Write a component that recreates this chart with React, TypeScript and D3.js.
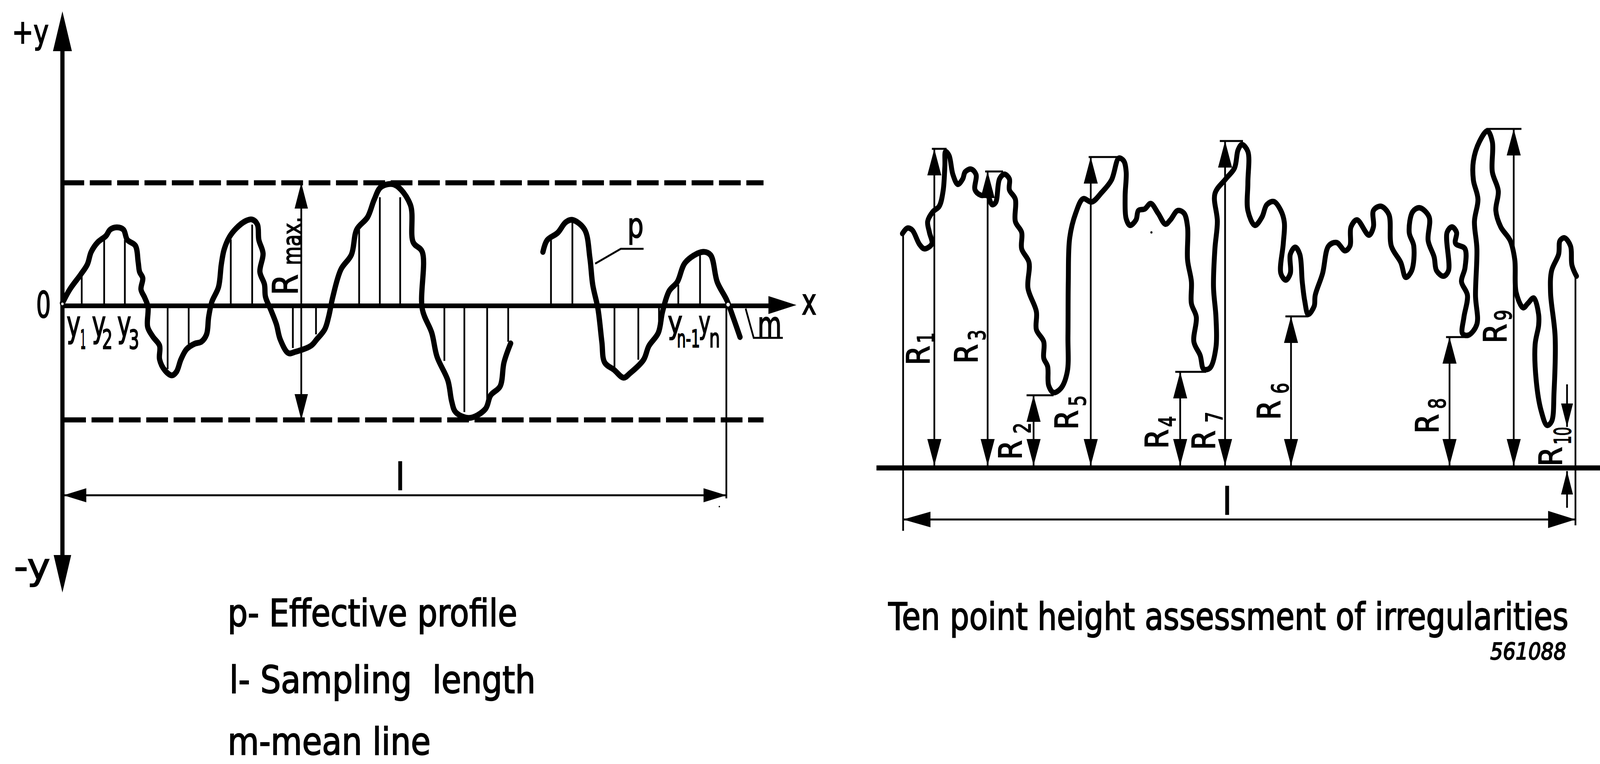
import React from "react";
import * as d3 from "d3";

type P = [number, number];

// Left panel: [distance along the mean line, height above the mean line]
const profileLeftA: P[] = [[0,7],[21,42],[52,80],[71,106],[82,138],[101,163],[124,179],[136,195],[155,201],[174,195],[185,169],[208,154],[216,112],[220,87],[229,71],[224,42],[235,20],[244,-3],[243,-54],[258,-79],[277,-102],[277,-137],[292,-165],[312,-178],[325,-169],[338,-137],[354,-111],[377,-97],[396,-92],[411,-73],[417,-28],[426,10],[445,48],[453,106],[461,144],[476,176],[495,198],[522,217],[541,221],[556,208],[560,169],[572,134],[563,87],[576,55],[579,23],[595,-12],[610,-47],[621,-86],[644,-121],[663,-118],[709,-102],[725,-86],[748,-60],[759,-28],[771,23],[794,93],[824,131],[839,195],[870,227],[889,272],[908,304],[947,310],[992,259],[1000,163],[1026,138],[1026,-8],[1053,-69],[1068,-130],[1099,-191],[1110,-245],[1121,-272],[1160,-287],[1206,-264],[1221,-229],[1248,-206],[1259,-145],[1278,-96]];
const profileLeftB: P[] = [[1370,138],[1382,168],[1412,187],[1435,214],[1454,220],[1489,195],[1504,122],[1512,54],[1527,-8],[1538,-92],[1546,-145],[1573,-164],[1600,-184],[1619,-172],[1657,-138],[1672,-103],[1699,-69],[1711,-15],[1730,38],[1753,61],[1776,111],[1825,138],[1848,130],[1867,61],[1894,15],[1913,-31],[1932,-80]];
const ordinates: P[] = [[55,75],[119,170],[178,169],[300,-162],[360,-98],[480,170],[541,208],[657,-108],[723,-73],[846,195],[905,278],[963,278],[1089,-141],[1146,-272],[1211,-241],[1271,-92],[1393,176],[1454,214],[1574,-160],[1642,-138],[1701,-46],[1756,54],[1818,130]];
const peakHeight = 315;
const valleyDepth = -292;
const samplingLengthLeft = 1893;

// Right panel: [distance along the base line, height above the base line]
const profileRight: P[] = [[-2,600],[12,614],[26,609],[47,572],[61,561],[82,574],[75,603],[70,631],[85,656],[103,670],[114,709],[119,772],[121,810],[131,800],[142,751],[156,726],[170,740],[177,758],[194,765],[208,751],[205,712],[222,698],[240,698],[254,674],[264,680],[275,740],[289,752],[303,740],[303,712],[320,688],[320,631],[338,603],[338,561],[359,526],[356,460],[380,400],[380,354],[401,323],[401,281],[412,260],[415,211],[429,193],[450,204],[468,246],[470,337],[471,477],[475,589],[492,652],[513,689],[538,681],[566,705],[594,737],[615,793],[629,786],[636,758],[633,695],[636,638],[647,621],[664,635],[671,659],[689,663],[706,677],[727,652],[748,624],[762,635],[783,659],[801,652],[811,617],[811,533],[822,477],[822,421],[836,386],[829,323],[847,288],[857,253],[875,256],[892,309],[892,386],[885,463],[889,561],[896,631],[889,702],[920,740],[945,768],[955,814],[966,828],[983,810],[983,730],[983,659],[1003,621],[1023,642],[1037,674],[1057,682],[1077,659],[1087,628],[1084,575],[1077,498],[1091,481],[1104,498],[1104,547],[1118,565],[1131,547],[1138,477],[1145,428],[1155,393],[1172,414],[1175,442],[1196,498],[1213,568],[1236,577],[1260,556],[1274,568],[1277,617],[1294,635],[1328,596],[1341,617],[1341,659],[1362,670],[1385,649],[1392,568],[1419,526],[1433,488],[1450,505],[1456,568],[1443,603],[1453,656],[1473,666],[1500,642],[1497,582],[1514,540],[1521,505],[1541,491],[1555,505],[1551,603],[1565,617],[1578,603],[1575,575],[1602,561],[1602,512],[1592,477],[1609,442],[1599,386],[1595,344],[1612,340],[1636,368],[1632,442],[1636,561],[1629,631],[1639,688],[1626,737],[1626,786],[1643,835],[1666,863],[1680,835],[1680,758],[1697,709],[1690,659],[1704,617],[1731,582],[1744,533],[1748,449],[1768,410],[1781,421],[1798,435],[1812,393],[1812,365],[1802,316],[1805,225],[1819,147],[1836,109],[1849,119],[1856,196],[1859,337],[1846,449],[1849,505],[1869,547],[1873,582],[1886,589],[1903,568],[1907,519],[1920,491]];
// Ten point heights: position and height
const rPositions = [89, 372, 241, 790, 535, 1106, 918, 1558, 1741];
const rHeights = [817, 186, 759, 246, 796, 388, 837, 335, 868];
const rTickFrom = [82, 352, 234, 776, 529, 1090, 903, 1548, 1663];
const rTickTo = [124, 429, 285, 864, 619, 1155, 969, 1612, 1763];
const rNames = ["1", "2", "3", "4", "5", "6", "7", "8", "9"];
const r10Position = 1893;
const r10Top = 105;
const r10TopTail = 214;
const r10Bottom = -8;
const r10BottomTail = -102;
const samplingLengthRight = 1917;

// Rotated label anchors: [x, y] of R then of its index
const rLabelR: P[] = [[2650,935],[2912,1177],[2787,931],[3330,1149],[3073,1100],[3650,1075],[3464,1152],[4101,1110],[4295,879],[4453,1194]];
const rLabelSub: P[] = [[2663,879],[2938,1110],[2809,872],[3351,1093],[3095,1040],[3673,1008],[3485,1082],[4121,1047],[4309,821],[4478,1138]];
const allNames = [...rNames, "10"];

const captionsLeft = ["p- Effective profile", "l- Sampling  length", "m-mean line"];
const captionRight = "Ten point height assessment of irregularities";
const figureNo = "561088";

const xL = d3.scaleLinear([0, 2100], [178, 2278]);
const yL = d3.scaleLinear([-300, 300], [1083, 483]);
const xR = d3.scaleLinear([0, 1917], [2575, 4492]);
const yR = d3.scaleLinear([0, 900], [1198, 298]);

const smooth = d3.line<P>().curve(d3.curveCatmullRom.alpha(0.5));

function head(tipX: number, tipY: number, dx: number, dy: number, len: number, w: number): string {
  const p = d3.path();
  p.moveTo(tipX, tipY);
  p.lineTo(tipX - dx * len - dy * w / 2, tipY - dy * len - dx * w / 2);
  p.lineTo(tipX - dx * len + dy * w / 2, tipY - dy * len + dx * w / 2);
  p.closePath();
  return p.toString();
}

const FONT = "'DejaVu Sans', sans-serif";

function T(props: { x: number; y: number; fs: number; w?: number; rot?: boolean; sx?: number; anchor?: string; italic?: boolean; children: string }) {
  const { x, y, fs, w, rot, sx, anchor, italic, children } = props;
  const placed = rot || sx;
  return (
    <text
      x={placed ? 0 : x}
      y={placed ? 0 : y}
      transform={rot ? `translate(${x},${y}) rotate(-90)` : sx ? `translate(${x},${y}) scale(${sx},1)` : undefined}
      fontFamily={FONT}
      fontSize={fs}
      fontStyle={italic ? "italic" : undefined}
      textAnchor={anchor}
      textLength={w ? (sx ? w / sx : w) : undefined}
      lengthAdjust={w ? "spacingAndGlyphs" : undefined}
      fill="#000"
      stroke="#000"
      strokeWidth={2.5}
      xmlSpace="preserve"
    >
      {children}
    </text>
  );
}

function Line(props: { x1: number; y1: number; x2: number; y2: number; w: number; dash?: string }) {
  return <line x1={props.x1} y1={props.y1} x2={props.x2} y2={props.y2} stroke="#000" strokeWidth={props.w} strokeDasharray={props.dash} />;
}

const THIN = 5;

export default function App() {
  const ax = xL(0);
  const my = yL(0);
  const baseY = yR(0);
  const lY = yR(-132);
  const lLeftY = 1268;
  const rmaxX = xL(681);
  return (
    <svg viewBox="0 0 4562 1956" preserveAspectRatio="none" style={{ position: "fixed", left: 0, top: 0, width: "100vw", height: "100vh", background: "#fff", display: "block" }}>
      {/* Left panel */}
      <Line x1={ax} y1={100} x2={ax} y2={1450} w={12} />
      <path d={head(ax, 29, 0, -1, 102, 54)} />
      <path d={head(ax, 1517, 0, 1, 96, 50)} />
      <Line x1={ax} y1={my} x2={2210} y2={my} w={12} />
      <path d={head(2271, my - 2, 1, 0, 80, 46)} />
      <Line x1={ax} y1={yL(peakHeight)} x2={2177} y2={yL(peakHeight)} w={13} dash="62 16" />
      <Line x1={ax + 5} y1={yL(valleyDepth)} x2={2177} y2={yL(valleyDepth)} w={13} dash="62 16" />
      {ordinates.map(([x, h], i) => (
        <Line key={i} x1={xL(x)} y1={my} x2={xL(x)} y2={yL(h)} w={THIN} />
      ))}
      <Line x1={rmaxX} y1={yL(peakHeight)} x2={rmaxX} y2={yL(valleyDepth)} w={THIN} />
      <path d={head(rmaxX, yL(peakHeight), 0, -1, 66, 38)} />
      <path d={head(rmaxX, yL(valleyDepth), 0, 1, 66, 38)} />
      <path d={smooth(profileLeftA.map(([x, h]) => [xL(x), yL(h)] as P)) ?? ""} fill="none" stroke="#000" strokeWidth={15} strokeLinejoin="round" strokeLinecap="round" />
      <path d={smooth(profileLeftB.map(([x, h]) => [xL(x), yL(h)] as P)) ?? ""} fill="none" stroke="#000" strokeWidth={15} strokeLinejoin="round" strokeLinecap="round" />
      <circle cx={ax} cy={my - 5} r={5} fill="#fff" stroke="#000" strokeWidth={3} />
      <circle cx={2076} cy={780} r={5} fill="#fff" />
      <Line x1={xL(samplingLengthLeft)} y1={my} x2={xL(samplingLengthLeft)} y2={1276} w={THIN} />
      <Line x1={ax} y1={lLeftY} x2={xL(samplingLengthLeft)} y2={lLeftY} w={THIN} />
      <path d={head(ax + 3, lLeftY, -1, 0, 65, 36)} />
      <path d={head(xL(samplingLengthLeft), lLeftY, 1, 0, 65, 36)} />
      <path d={d3.line()([[1697, 675], [1770, 637], [1835, 637]]) ?? ""} fill="none" stroke="#000" strokeWidth={THIN} />
      <path d={d3.line()([[2126, 790], [2149, 865], [2232, 865]]) ?? ""} fill="none" stroke="#000" strokeWidth={THIN} />

      <T x={34} y={111} fs={85} w={105}>+y</T>
      <T x={103} y={813} fs={92} w={42}>0</T>
      <T x={2286} y={805} fs={92} w={42}>x</T>
      <T x={40} y={1483} fs={93} w={103}>-y</T>
      <T x={1789} y={608} fs={88} w={46}>p</T>
      <T x={2160} y={865} fs={95} w={69}>m</T>
      <T x={1141} y={1254} fs={94} anchor="middle">l</T>
      <T x={190} y={862} fs={93} w={40}>y</T>
      <T x={229} y={893} fs={68} w={16}>1</T>
      <T x={262} y={862} fs={93} w={40}>y</T>
      <T x={291} y={893} fs={68} w={30}>2</T>
      <T x={334} y={862} fs={93} w={40}>y</T>
      <T x={367} y={893} fs={68} w={30}>3</T>
      <T x={1904} y={853} fs={80} w={42}>y</T>
      <T x={1930} y={889} fs={62} w={66}>n-1</T>
      <T x={1992} y={853} fs={80} w={34}>y</T>
      <T x={2022} y={889} fs={66} w={31}>n</T>
      <T x={849} y={756} fs={100} w={54} rot>R</T>
      <T x={858} y={679} fs={72} w={124} rot>max.</T>

      {captionsLeft.map((c, i) => (
        <T key={c} x={[649, 654, 649][i]} y={[1603, 1774, 1932][i]} fs={97} w={[826, 873, 579][i]}>{c}</T>
      ))}

      {/* Right panel */}
      <Line x1={2499} y1={baseY} x2={4562} y2={baseY} w={13} />
      <Line x1={xR(0)} y1={yR(600)} x2={xR(0)} y2={yR(-161)} w={THIN} />
      <Line x1={xR(samplingLengthRight)} y1={yR(491)} x2={xR(samplingLengthRight)} y2={yR(-147)} w={THIN} />
      <Line x1={xR(0)} y1={lY} x2={xR(samplingLengthRight)} y2={lY} w={THIN} />
      <path d={head(xR(0), lY, -1, 0, 78, 40)} />
      <path d={head(xR(samplingLengthRight), lY, 1, 0, 78, 44)} />
      {rPositions.map((x, i) => (
        <g key={rNames[i]}>
          <Line x1={xR(x)} y1={baseY} x2={xR(x)} y2={yR(rHeights[i])} w={THIN} />
          <Line x1={xR(rTickFrom[i])} y1={yR(rHeights[i])} x2={xR(rTickTo[i])} y2={yR(rHeights[i])} w={THIN} />
          <path d={head(xR(x), yR(rHeights[i]), 0, -1, 68, 40)} />
          <path d={head(xR(x), baseY - 6, 0, 1, 68, 40)} />
        </g>
      ))}
      <Line x1={xR(r10Position)} y1={yR(r10Top)} x2={xR(r10Position)} y2={yR(r10TopTail)} w={THIN} />
      <Line x1={xR(r10Position)} y1={yR(r10Bottom)} x2={xR(r10Position)} y2={yR(r10BottomTail)} w={THIN} />
      <path d={head(xR(r10Position), yR(r10Top), 0, 1, 60, 34)} />
      <path d={head(xR(r10Position), yR(r10Bottom), 0, -1, 60, 34)} />
      <path d={smooth(profileRight.map(([x, h]) => [xR(x), yR(h)] as P)) ?? ""} fill="none" stroke="#000" strokeWidth={14} strokeLinejoin="round" strokeLinecap="round" />
      {allNames.map((n, i) => (
        <g key={n}>
          <T x={rLabelR[i][0]} y={rLabelR[i][1]} fs={90} w={50} rot>R</T>
          <T x={rLabelSub[i][0]} y={rLabelSub[i][1]} fs={66} w={n.length > 1 ? 45 : 28} rot>{n}</T>
        </g>
      ))}
      <T x={3499} y={1317} fs={94} anchor="middle">l</T>
      <T x={2533} y={1612} fs={97} w={1939} sx={0.72}>{captionRight}</T>
      <T x={4249} y={1688} fs={58} w={217} italic>{figureNo}</T>
      <circle cx={3283} cy={595} r={3} />
      <circle cx={2051} cy={1297} r={2} />
    </svg>
  );
}
